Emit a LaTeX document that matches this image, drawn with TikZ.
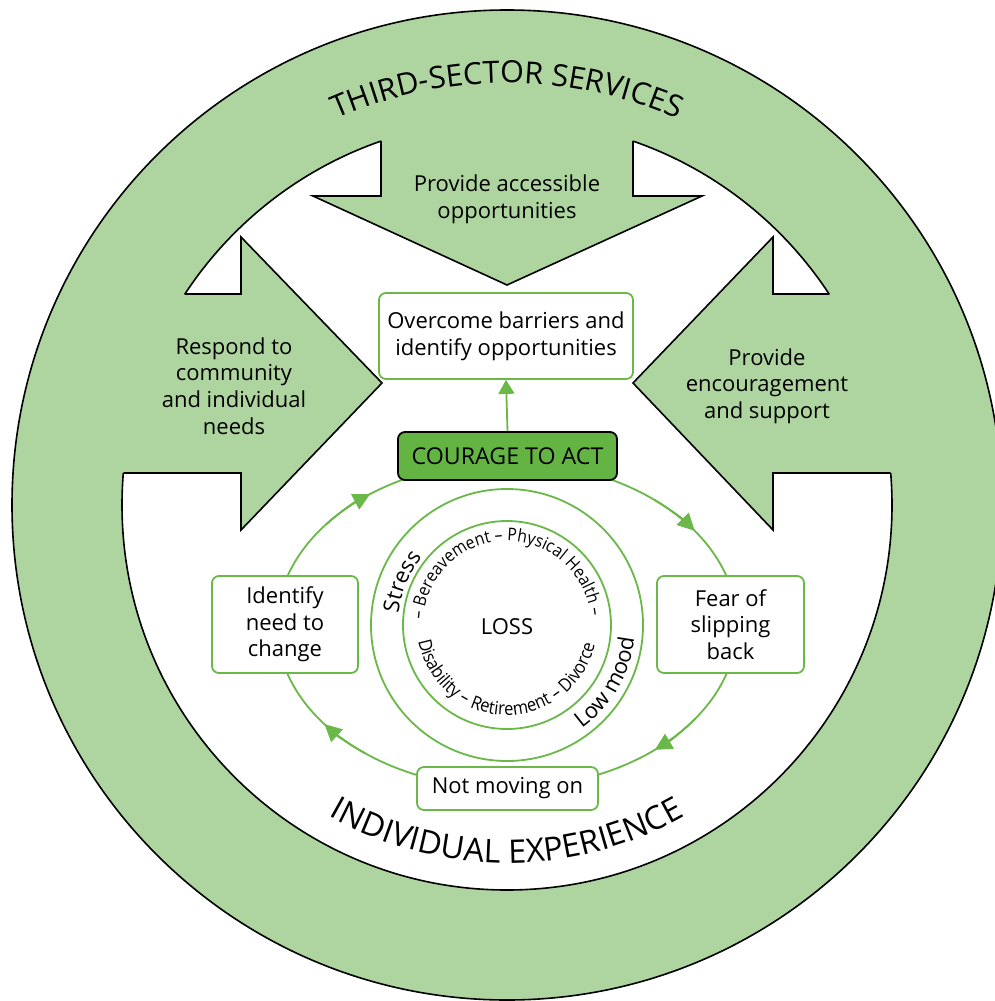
\documentclass[tikz,border=0pt]{standalone}
\usepackage{fontspec}
\setmainfont{Open Sans}
\newfontfamily\narrowfam[FakeStretch=0.9]{Open Sans}
\usetikzlibrary{decorations.text,arrows.meta,calc}
\definecolor{ringg}{RGB}{174,213,160}
\definecolor{lineg}{RGB}{106,184,72}
\definecolor{darkg}{RGB}{100,180,68}
\newcommand\bxfont{\fontsize{22}{26.7}\selectfont}
\newcommand\cgfont{\fontsize{23.2}{26.7}\selectfont}
\newcommand\smfont{\narrowfam\fontsize{17.5}{19}\selectfont}
\newcommand\sbfont{\narrowfam\fontsize{18.3}{19}\selectfont}
\newcommand\ttlfont{\fontsize{30.5}{33}\selectfont}
\newcommand\btfont{\fontsize{32.5}{35}\selectfont}
\begin{document}
\begin{tikzpicture}[x=1pt,y=1pt,
  blk/.style={draw=black,line width=1.6pt,line join=miter},
  gbox/.style={draw=lineg,line width=1.8pt,fill=white,rounded corners=7pt,align=center,font=\bxfont,inner sep=0pt},
  lbl/.style={align=center,font=\bxfont},
  cyc/.style={draw=lineg,line width=1.8pt},
  midtip/.style={cyc,-{Triangle[length=17pt,width=17pt]}},
  curv/.style={decorate,decoration={text along path,text align=center,text={#1}}}
]
\useasboundingbox (0,0) rectangle (995,-1001);
\clip (0,0) rectangle (995,-1001);
\fill[white] (0,0) rectangle (995,-1001);
\coordinate (O) at (507,-505);
\coordinate (C) at (507,-625);
% ring
\filldraw[fill=ringg,draw=black,line width=1.6pt] (O) circle[radius=495pt];
\filldraw[fill=white,draw=black,line width=1.6pt] (O) circle[radius=385pt];
% block arrows (fill)
\fill[ringg] (381,-100) -- (381,-196) -- (313,-196) -- (507,-285) -- (702,-196) -- (633,-196) -- (633,-100) -- cycle;
\fill[ringg] (100,-294) -- (241,-294) -- (241,-237) -- (382,-383) -- (241,-530) -- (241,-473) -- (100,-473) -- cycle;
\fill[ringg] (914,-294) -- (773,-294) -- (773,-237) -- (633,-383) -- (773,-530) -- (773,-473) -- (914,-473) -- cycle;
\begin{scope}
\clip (O) circle[radius=385pt];
\draw[blk] (381,-100) -- (381,-196) -- (313,-196) -- (507,-285) -- (702,-196) -- (633,-196) -- (633,-100) -- cycle;
\draw[blk] (100,-294) -- (241,-294) -- (241,-237) -- (382,-383) -- (241,-530) -- (241,-473) -- (100,-473) -- cycle;
\draw[blk] (914,-294) -- (773,-294) -- (773,-237) -- (633,-383) -- (773,-530) -- (773,-473) -- (914,-473) -- cycle;
\end{scope}
% arrow labels
\node[lbl] (ta) at (507,-199) {Provide accessible\\opportunities};
\node[lbl] (tb) at (234,-386) {Respond to\\community\\and individual\\needs};
\node[lbl] (tc) at (767,-386) {Provide\\encouragement\\and support};
% ring titles
\path[curv={|\ttlfont|THIRD-SECTOR SERVICES}] (O) ++(150:422pt) arc[start angle=150,end angle=30,radius=422pt];
\path[curv={|\btfont|INDIVIDUAL EXPERIENCE}] (O) ++(210:358pt) arc[start angle=210,end angle=330,radius=358pt];
% cycle
\draw[cyc] (C) ellipse[x radius=230pt,y radius=163pt];
\draw[cyc] (C) circle[radius=136pt];
\draw[cyc] (C) circle[radius=104pt];
\begin{scope}[shift={(C)}]
\draw[midtip] (142:230pt and 163pt) arc[start angle=142,end angle=126.5,x radius=230pt,y radius=163pt];
\draw[midtip] (50:230pt and 163pt) arc[start angle=50,end angle=35.3,x radius=230pt,y radius=163pt];
\draw[midtip] (-35:230pt and 163pt) arc[start angle=-35,end angle=-50,x radius=230pt,y radius=163pt];
\draw[midtip] (-128:230pt and 163pt) arc[start angle=-128,end angle=-142.5,x radius=230pt,y radius=163pt];
\end{scope}
\path[curv={|\bxfont|Stress}] (C) ++(200:109pt) arc[start angle=200,end angle=115,radius=109pt];
\path[curv={|\bxfont|Low mood}] (C) ++(-80:128pt) arc[start angle=-80,end angle=20,radius=128pt];
\path[curv={|\smfont|– Bereavement – Physical Health –}] (C) ++(200:84pt) arc[start angle=200,end angle=-18,radius=84pt];
\path[curv={|\sbfont|Disability – Retirement – Divorce}] (C) ++(169:90pt) arc[start angle=169,end angle=369,radius=90pt];
\node[font=\bxfont] (loss) at (507,-627) {LOSS};
% boxes
\node[gbox,minimum width=254pt,minimum height=86pt] (over) at (506,-336) {Overcome barriers and\\identify opportunities};
\node[draw=black,fill=darkg,line width=1.8pt,rounded corners=7pt,inner sep=0pt,minimum width=219pt,minimum height=48pt,font=\cgfont] (courage) at (507.5,-456) {COURAGE TO ACT};
\node[gbox,minimum width=146pt,minimum height=97pt] (ident) at (285,-624.5) {Identify\\need to\\change};
\node[gbox,minimum width=147pt,minimum height=97pt] (fear) at (730.5,-624.5) {Fear of\\slipping\\back};
\node[gbox,minimum width=181pt,minimum height=43pt] (notm) at (507.5,-788.5) {Not moving on};
\draw[cyc,-{Triangle[length=14pt,width=16pt]}] (courage.north) -- (over.south);
\end{tikzpicture}
\end{document}
